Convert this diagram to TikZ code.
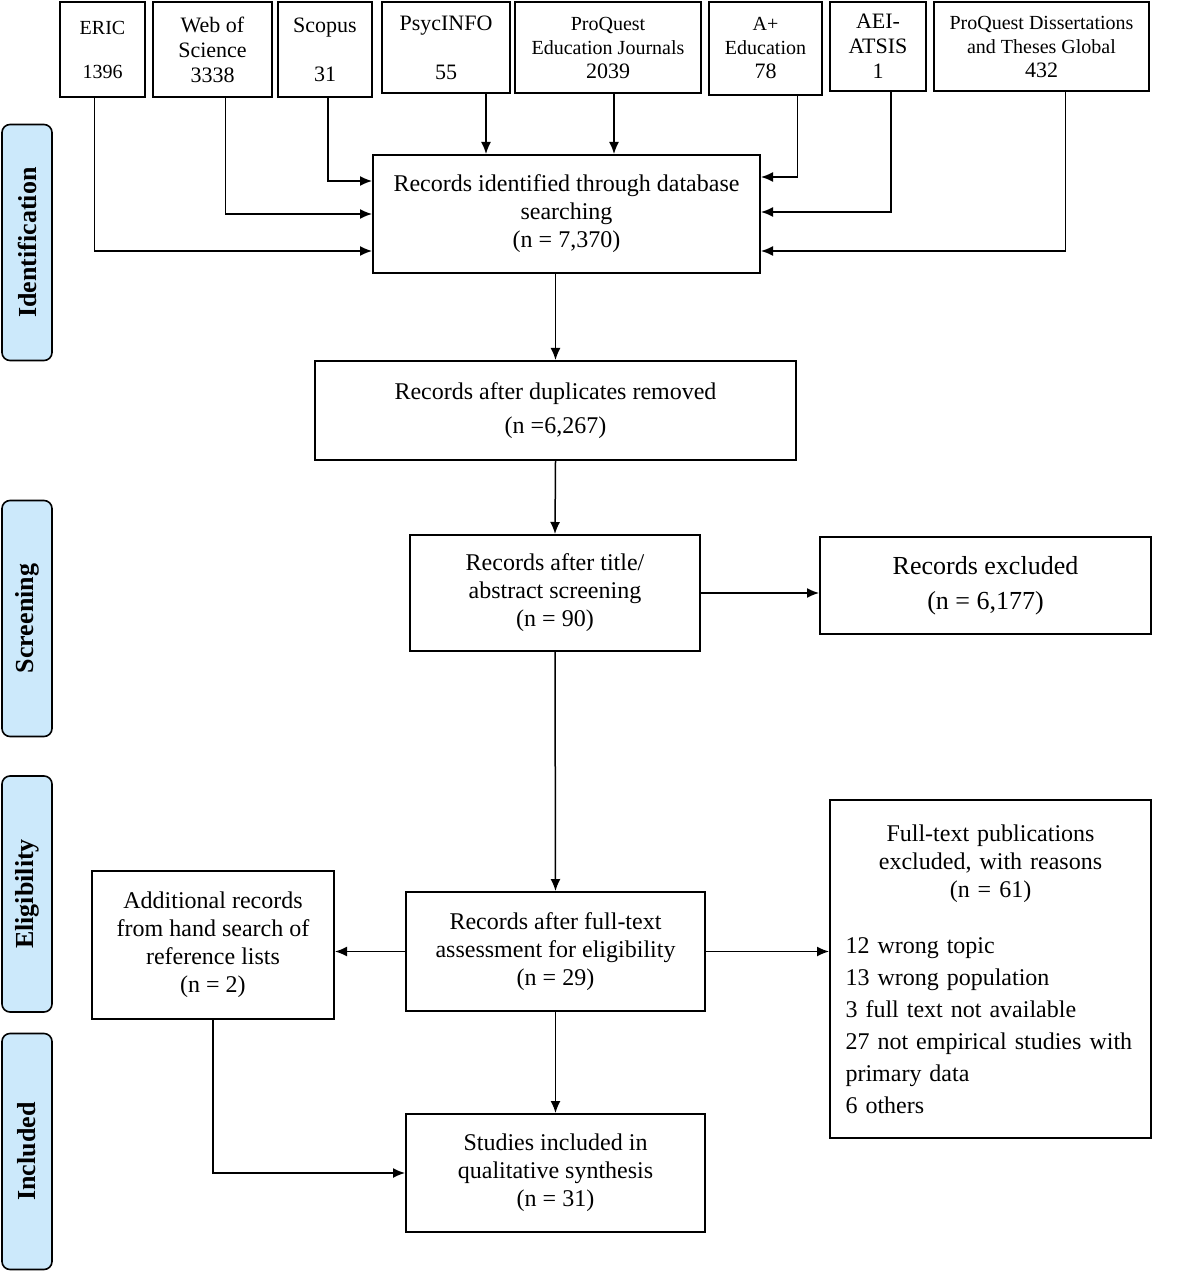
\documentclass[tikz,border=0pt]{standalone}
\usepackage{fontspec}
\setmainfont{Liberation Serif}
\usetikzlibrary{arrows.meta}
\definecolor{stagefill}{RGB}{204,233,251}
\begin{document}
\begin{tikzpicture}[x=0.5pt,y=-0.5pt,
    box/.style={draw,line width=1pt,inner sep=0pt,align=center,font=\fontsize{12}{14}\selectfont},
    src/.style={draw,line width=1pt,inner sep=0pt,align=center,font=\fontsize{10}{12}\selectfont},
    srcbig/.style={src,font=\fontsize{11}{12.5}\selectfont},
    stage/.style={draw,line width=0.8pt,rounded corners=4pt,fill=stagefill,rotate=90,
      minimum width=118pt,minimum height=25pt,inner sep=0pt,font=\fontsize{13}{15}\selectfont\bfseries},
    arr/.style={-{Latex[length=6pt,width=5pt]},line width=0.75pt}]
  \useasboundingbox (0,0) rectangle (1181,1272);
  % stages
  \node[stage] (sid) at (27,242.5) {Identification};
  \node[stage] (ssc) at (27,618.5) {Screening};
  \node[stage] (sel) at (27,894) {Eligibility};
  \node[stage] (sin) at (27,1151.5) {Included};
  % databases
  \node[src,minimum width=42.5pt,minimum height=47.5pt] (eric) at (102.5,49.5) {ERIC\\[10pt]1396};
  \node[srcbig,minimum width=59.5pt,minimum height=47.5pt] (wos) at (212.5,49.5) {Web of\\Science\\3338};
  \node[srcbig,minimum width=47pt,minimum height=47.5pt] (scopus) at (325,49.5) {Scopus\\[12pt]31};
  \node[srcbig,minimum width=64pt,minimum height=45.5pt] (psyc) at (446,47.5) {PsycINFO\\[12pt]55};
  \node[src,minimum width=93pt,minimum height=45.5pt] (pqej) at (608,47.5) {ProQuest\\Education Journals\\{\fontsize{11}{12}\selectfont 2039}};
  \node[src,minimum width=56.5pt,minimum height=46.5pt] (aplus) at (765.5,48.5) {A+\\Education\\{\fontsize{11}{12}\selectfont 78}};
  \node[srcbig,minimum width=48pt,minimum height=44.5pt] (aei) at (878,46.5) {AEI-\\ATSIS\\1};
  \node[src,minimum width=107.5pt,minimum height=44.5pt] (pqdt) at (1041.5,46.5) {ProQuest Dissertations\\and Theses Global\\{\fontsize{11}{12}\selectfont 432}};
  % flow
  \node[box,minimum width=193.5pt,minimum height=59pt] (ident) at (566.5,214) {Records identified through database\\searching\\(n = 7,370)};
  \node[box,minimum width=240.5pt,minimum height=49.5pt] (dup) at (555.5,410.5) {Records after duplicates removed\\[3pt](n =6,267)};
  \node[box,minimum width=145pt,minimum height=58pt] (title) at (555,593) {Records after title/\\abstract screening\\(n = 90)};
  \node[box,minimum width=165.5pt,minimum height=48.5pt,font=\fontsize{13}{17.5}\selectfont] (excl) at (985.5,585.5) {Records excluded\\(n = 6,177)};
  \node[box,minimum width=149.5pt,minimum height=59.5pt] (fulltext) at (555.5,951.5) {Records after full-text\\assessment for eligibility\\(n = 29)};
  \node[box,minimum width=121pt,minimum height=74pt] (addl) at (213,945) {Additional records\\from hand search of\\reference lists\\(n = 2)};
  \node[box,minimum width=149.5pt,minimum height=59pt] (incl) at (555.5,1173) {Studies included in\\qualitative synthesis\\(n = 31)};
  \node[box,align=left,text width=145pt,inner xsep=7.75pt,minimum height=169pt] (ftex) at (990.5,969)
    {\centering Full-text publications\\excluded, with reasons\\(n = 61)\par
     \fontsize{12}{16}\selectfont\raggedright\vspace{12pt}12 wrong topic\\13 wrong population\\3 full text not available\\27 not empirical studies with\\primary data\\6 others\par};
  % exits of the database boxes
  \coordinate (ericout) at ([xshift=-4pt]eric.south);
  \coordinate (wosout) at ([xshift=6.5pt]wos.south);
  \coordinate (scopusout) at ([xshift=1.5pt]scopus.south);
  \coordinate (psycout) at ([xshift=20pt]psyc.south);
  \coordinate (pqejout) at ([xshift=3pt]pqej.south);
  \coordinate (aplusout) at ([xshift=16pt]aplus.south);
  \coordinate (aeiout) at ([xshift=6.5pt]aei.south);
  \coordinate (pqdtout) at ([xshift=12pt]pqdt.south);
  \draw[arr] (ericout) |- ([yshift=-18.5pt]ident.west);
  \draw[arr] (wosout) |- (ident.west);
  \draw[arr] (scopusout) |- ([yshift=16.5pt]ident.west);
  \draw[arr] (psycout) -- (psycout |- ident.north);
  \draw[arr] (pqejout) -- (pqejout |- ident.north);
  \draw[arr] (aplusout) |- ([yshift=18.5pt]ident.east);
  \draw[arr] (aeiout) |- ([yshift=1pt]ident.east);
  \draw[arr] (pqdtout) |- ([yshift=-18.5pt]ident.east);
  \draw[arr] (dup.north |- ident.south) -- (dup.north);
  \draw[arr] (dup.south) -- (title.north);
  \draw[arr] (title.east) -- (excl.west |- title.east);
  \draw[arr] (title.south) -- (fulltext.north);
  \draw[arr] (fulltext.east) -- (ftex.west |- fulltext.east);
  \draw[arr] (fulltext.west) -- (addl.east |- fulltext.west);
  \draw[arr] (fulltext.south) -- (incl.north);
  \draw[arr] (addl.south) |- (incl.west);
\end{tikzpicture}
\end{document}
